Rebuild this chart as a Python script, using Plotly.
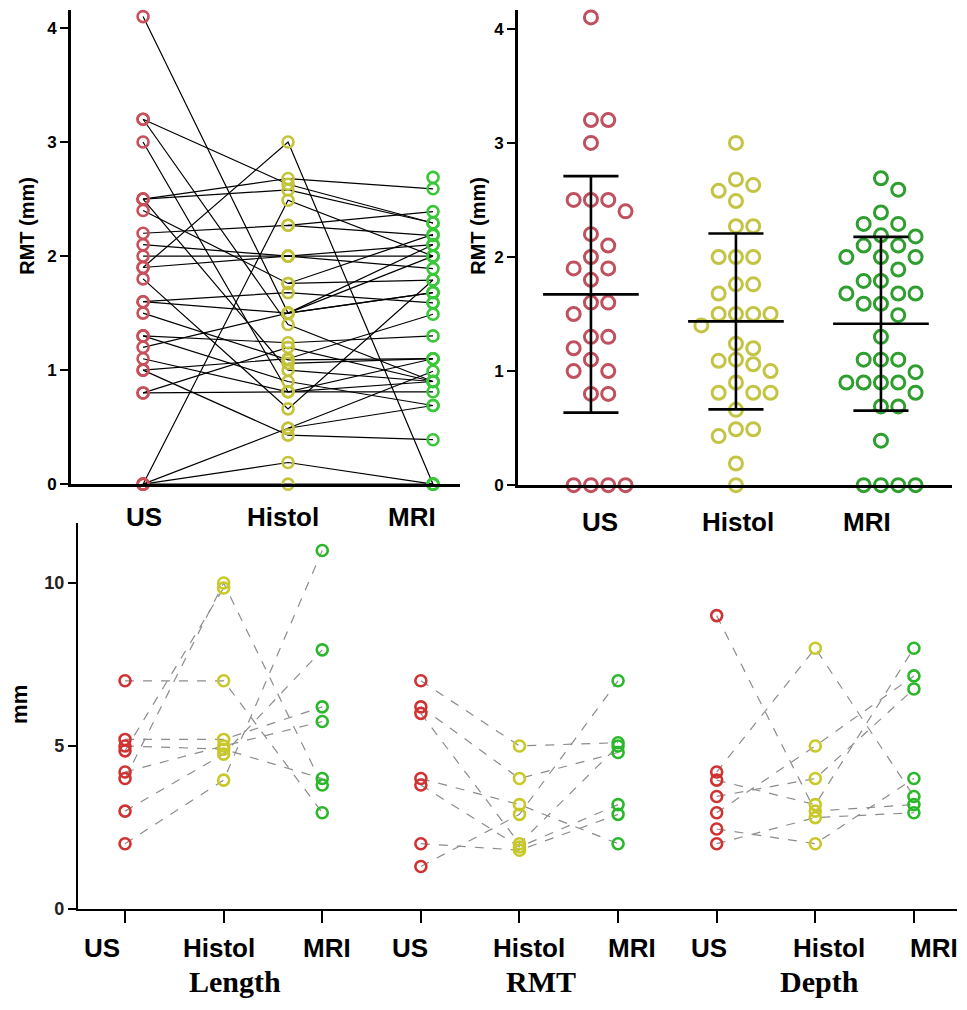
import numpy as np
import plotly.graph_objects as go

# ---------------- DATA ----------------
methods = ["US", "Histol", "MRI"]

# Top panels: RMT (mm) per subject, paired (None = not measured)
us_rmt = [4.1, 3.2, 3.2, 3.0, 2.5, 2.5, 2.5, 2.4, 2.2, 2.1, 2.0, 1.9, 1.9, 1.8, 1.6, 1.6, 1.5,
          1.3, 1.3, 1.2, 1.1, 1.0, 1.0, 0.8, 0.8, 0.0, 0.0, 0.0, 0.0,
          None, None, None, None, None, None, None, None, None]
histol_rmt = [1.5, 2.63, 1.4, 0.81, 2.68, 2.58, 1.0, 1.76, 2.27, 2.0, 2.0, 3.0, 2.0, 0.66, 1.5, 1.68, 1.09,
              1.24, 0.9, 1.5, 0.81, 1.1, 0.43, 0.81, 1.2, 2.49, 0.49, 0.19, 0.0,
              2.27, 1.76, 1.5, None, 1.06, 0.49, None, None, None]
mri_rmt = [2.1, 2.29, 0.9, 1.1, 2.59, 2.29, 0.9, 2.19, 2.18, 2.1, 2.0, 0.0, 1.89, 1.79, 1.68, 1.59, 1.1,
           1.3, 0.69, 1.68, 0.9, 1.49, 0.39, 0.81, 0.9, 2.0, 0.69, 0.0, 0.0,
           2.39, 1.79, 2.0, 1.68, 1.1, 0.99, 0.0, 2.69, 1.59]

# Bottom panel: groups and paired values (mm)
groups = ["Length", "RMT", "Depth"]
len_us = [7.0, 4.0, 5.2, 5.0, 4.2, 3.0, 2.0, 4.85]
len_histol = [7.0, 10.0, 5.2, 4.9, 5.0, 4.75, 3.95, 9.85]
len_mri = [2.95, 3.8, 6.2, 4.0, 5.75, 7.95, 11.0, None]

rmt_us = [7.0, 6.2, 6.0, 4.0, 3.8, 2.0, 1.3]
rmt_histol = [5.0, 4.0, 2.0, 3.2, 1.9, 1.8, 2.9]
rmt_mri = [5.1, 4.8, 5.0, 2.0, 3.2, 2.9, 7.0]

dep_us = [9.0, 4.2, 3.95, 3.45, 2.95, 2.45, 2.0]
dep_histol = [3.0, 8.0, 3.2, 4.0, 5.0, 2.0, 2.8]
dep_mri = [3.2, 3.45, 8.0, 6.75, 7.15, 4.0, 2.95]

# ---------------- STYLE ----------------
OFF = 8  # page body margin
W, H = 967 - 2 * OFF, 1010 - 2 * OFF
SANS = "Liberation Sans, Arial, sans-serif"
SERIF = "Liberation Serif, Times New Roman, serif"
tl_colors = ["#c8505a", "#c4c43a", "#38c838"]
tr_colors = ["#c0505e", "#c4c444", "#2e9e2e"]
bt_colors = ["#d03232", "#c8c828", "#2ab82a"]


def px(x):
    return (x - OFF) / W


def py(y):
    return 1 - (y - OFF) / H


fig = go.Figure()

# ---- Top-left: paired lines ----
lx, ly = [], []
for trip in zip(us_rmt, histol_rmt, mri_rmt):
    for i, v in enumerate(trip):
        lx.append(i)
        ly.append(v)
    lx.append(None)
    ly.append(None)
fig.add_trace(go.Scatter(x=lx, y=ly, mode="lines", line=dict(color="black", width=1.2),
                         connectgaps=False, xaxis="x", yaxis="y", hoverinfo="skip",
                         showlegend=False, cliponaxis=False))
for i, vals in enumerate([us_rmt, histol_rmt, mri_rmt]):
    v = [a for a in vals if a is not None]
    fig.add_trace(go.Scatter(x=[i] * len(v), y=v, mode="markers",
                             marker=dict(symbol="circle-open", size=11, color=tl_colors[i],
                                         line=dict(width=2.6, color=tl_colors[i])),
                             xaxis="x", yaxis="y", showlegend=False, cliponaxis=False))


# ---- Top-right: beeswarm with mean +/- SD ----
def beeswarm(values, step_px=17.3, ppy=115.2, ppx=145.0, min_d=15.0):
    order = sorted(range(len(values)), key=lambda k: -values[k])
    placed = []
    offs = [0.0] * len(values)
    for k in order:
        yp = values[k] * ppy
        done = False
        for j in range(0, 20):
            for cand in ([0] if j == 0 else [j, -j]):
                xp = cand * step_px
                if all(np.hypot(xp - a, yp - b) >= min_d for a, b in placed):
                    placed.append((xp, yp))
                    offs[k] = xp / ppx
                    done = True
                    break
            if done:
                break
    return offs


for i, vals in enumerate([us_rmt, histol_rmt, mri_rmt]):
    v = [a for a in vals if a is not None]
    offs = beeswarm(v)
    fig.add_trace(go.Scatter(x=[i + o for o in offs], y=v, mode="markers",
                             marker=dict(symbol="circle-open", size=13, color=tr_colors[i],
                                         line=dict(width=3, color=tr_colors[i])),
                             xaxis="x2", yaxis="y2", showlegend=False, cliponaxis=False))
    m = float(np.mean(v))
    s = float(np.std(v, ddof=1))
    ex = [i - 0.33, i + 0.33, None, i - 0.19, i + 0.19, None, i - 0.19, i + 0.19, None, i, i]
    ey = [m, m, None, m + s, m + s, None, m - s, m - s, None, m - s, m + s]
    fig.add_trace(go.Scatter(x=ex, y=ey, mode="lines", line=dict(color="black", width=2.6),
                             xaxis="x2", yaxis="y2", showlegend=False, hoverinfo="skip"))

# ---- Bottom: three groups ----
bottom = [(len_us, len_histol, len_mri), (rmt_us, rmt_histol, rmt_mri), (dep_us, dep_histol, dep_mri)]
for g, trio in enumerate(bottom):
    bx, by = [], []
    for trip in zip(*trio):
        for i, v in enumerate(trip):
            bx.append(g * 3 + i)
            by.append(v)
        bx.append(None)
        by.append(None)
    fig.add_trace(go.Scatter(x=bx, y=by, mode="lines",
                             line=dict(color="#8c8c8c", width=1.2, dash="dash"),
                             xaxis="x3", yaxis="y3", showlegend=False, hoverinfo="skip"))
    for i, vals in enumerate(trio):
        v = [a for a in vals if a is not None]
        fig.add_trace(go.Scatter(x=[g * 3 + i] * len(v), y=v, mode="markers",
                                 marker=dict(symbol="circle-open", size=11, color=bt_colors[i],
                                             line=dict(width=2.6, color=bt_colors[i])),
                                 xaxis="x3", yaxis="y3", showlegend=False, cliponaxis=False))

# ---------------- AXES ----------------
ax_common = dict(showgrid=False, zeroline=False, showline=True, linecolor="black")
fig.update_layout(
    width=W, height=H, margin=dict(l=0, r=0, t=0, b=0),
    paper_bgcolor="white", plot_bgcolor="white",
    xaxis=dict(domain=[px(71), px(460)], range=[-0.497, 2.186], anchor="y",
               showticklabels=False, ticks="", linewidth=2.6, **ax_common),
    yaxis=dict(domain=[py(489), py(10)], range=[0, 4.158], anchor="x",
               tickvals=[0, 1, 2, 3, 4], ticks="outside", ticklen=8, tickwidth=2.2,
               tickcolor="black", linewidth=2.6,
               tickfont=dict(family=SANS, size=17, color="black", weight="bold"), **ax_common),
    xaxis2=dict(domain=[px(518), px(952)], range=[-0.503, 2.49], anchor="y2",
                showticklabels=False, ticks="", linewidth=2.6, **ax_common),
    yaxis2=dict(domain=[py(490), py(10)], range=[0, 4.165], anchor="x2",
                tickvals=[0, 1, 2, 3, 4], ticks="outside", ticklen=8, tickwidth=2.2,
                tickcolor="black", linewidth=2.6,
                tickfont=dict(family=SANS, size=17, color="black", weight="bold"), **ax_common),
    xaxis3=dict(domain=[px(78), px(957)], range=[-0.477, 8.437], anchor="y3",
                tickvals=list(range(9)), showticklabels=False, ticks="outside", ticklen=12,
                tickwidth=2, tickcolor="black", linewidth=2.4, **ax_common),
    yaxis3=dict(domain=[py(918), py(528)], range=[0, 11.85], anchor="x3",
                tickvals=[0, 5, 10], ticks="outside", ticklen=8, tickwidth=2,
                tickcolor="black", linewidth=2.4,
                tickfont=dict(family=SANS, size=18, color="#222222", weight="bold"), **ax_common),
)

# ---------------- TEXT ----------------
ann = []


def label(text, x, y, size=26, family=SANS, angle=0, weight="bold"):
    ann.append(dict(text=text, x=px(x), y=py(y), xref="paper", yref="paper",
                    showarrow=False, xanchor="center", yanchor="middle", textangle=angle,
                    borderpad=0, font=dict(family=family, size=size, color="black", weight=weight)))


for t, x in zip(methods, [144, 283, 412]):
    label(t, x, 522)
for t, x in zip(methods, [600, 738, 867]):
    label(t, x, 527)
for t, x in zip(methods * 3, [102, 219, 327, 410, 529, 632, 709, 829, 934]):
    label(t, x, 958)
for t, x in zip(groups, [235, 541, 819]):
    label(t, x, 991, size=30, family=SERIF)

label("RMT (mm)", 27, 228, size=20, angle=-90)
label("RMT (mm)", 478, 228, size=20, angle=-90)
label("mm", 20, 712, size=22, angle=-90)

fig.update_layout(annotations=ann)
fig.write_html("out.html")
